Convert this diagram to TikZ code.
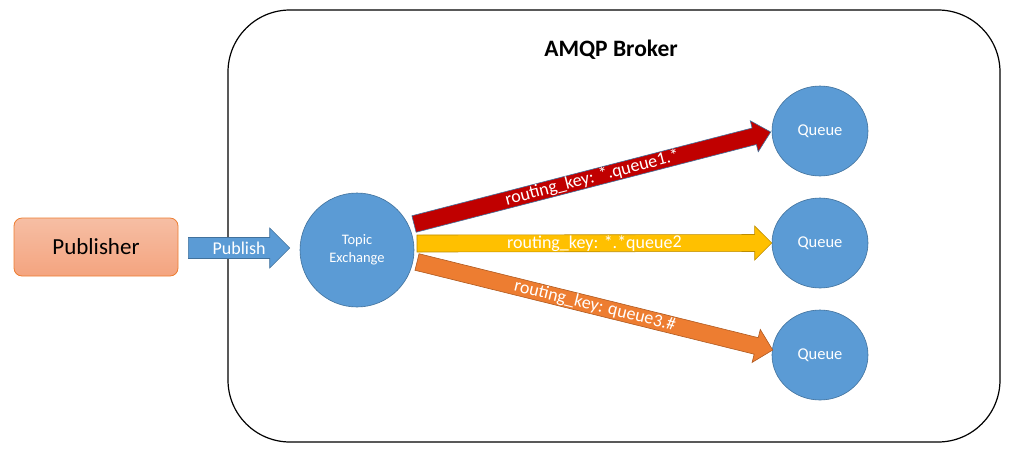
\documentclass[tikz,border=0pt]{standalone}
\usepackage{fontspec}
\setmainfont{Carlito}
\usetikzlibrary{calc,shapes.geometric}
\definecolor{qblue}{HTML}{5B9BD5}
\definecolor{qbluedark}{HTML}{41719C}
\definecolor{kred}{HTML}{C00000}
\definecolor{kyellow}{HTML}{FFC000}
\definecolor{kyellowdark}{HTML}{BC8C00}
\definecolor{korange}{HTML}{ED7D31}
\definecolor{korangedark}{HTML}{AE5A21}
\definecolor{pubtop}{HTML}{F6BEA4}
\definecolor{pubbot}{HTML}{F4A47F}
\newcommand{\blockarrow}[7]{%
  \coordinate (bah) at ($(#3)!#6!(#2)$);
  \draw[#1] ($(#2)!#4!90:(#3)$) -- ($(bah)!#4!90:(#3)$) -- ($(bah)!#5!90:(#3)$) -- (#3)
    -- ($(bah)!#5!-90:(#3)$) -- ($(bah)!#4!-90:(#3)$) -- ($(#2)!#4!-90:(#3)$) -- cycle;
  \path (#2) -- (#3) node[midway, sloped, arrowtext] {#7};
}
\tikzset{
  broker/.style={draw=black, line width=1.2pt, rounded corners=62pt},
  pubbox/.style={draw=korange, line width=0.8pt, rounded corners=8pt, top color=pubtop, bottom color=pubbot,
    minimum width=164pt, minimum height=58pt, font=\fontsize{23}{26}\selectfont, text=black},
  exnode/.style={circle, fill=qblue, draw=qbluedark, line width=0.6pt, minimum size=114pt, inner sep=0pt,
    text=white, align=center, font=\fontsize{14.5}{18}\selectfont},
  qnode/.style={ellipse, fill=qblue, draw=qbluedark, line width=0.6pt, minimum width=96pt, minimum height=90pt,
    inner sep=0pt, text=white, font=\fontsize{16.5}{18}\selectfont},
  arrowtext/.style={text=white, font=\fontsize{18}{20}\selectfont, inner sep=0pt},
  redarrow/.style={fill=kred, draw=qbluedark, line width=0.6pt},
  yellowarrow/.style={fill=kyellow, draw=kyellowdark, line width=0.6pt},
  orangearrow/.style={fill=korange, draw=korangedark, line width=0.6pt},
  bluearrow/.style={fill=qblue, draw=qbluedark, line width=0.6pt},
}
\begin{document}
\begin{tikzpicture}[x=1pt,y=-1pt]
\useasboundingbox (0,0) rectangle (1012,451);
\draw[broker] (228,10) rectangle (1000,442);
\node[font=\bfseries\fontsize{23.5}{26}\selectfont] (title) at (611,50) {AMQP Broker};
\node[pubbox] (pub) at (96,247) {Publisher};
\node[exnode] (ex) at (357,250) {Topic\\Exchange};
\node[qnode] (q1) at (820,131) {Queue};
\node[qnode] (q2) at (820,243) {Queue};
\node[qnode] (q3) at (820,355) {Queue};
\coordinate (pt) at ($(pub.east)+(10,1)$);
\coordinate (ph) at ($(ex.west)+(-10,-2)$);
\blockarrow{bluearrow}{pt}{ph}{10.5pt}{20pt}{20pt}{\fontsize{18}{20}\selectfont Publish}
\coordinate (rt) at (414,224);
\coordinate (rh) at ($(q1.west)+(-1,1)$);
\blockarrow{redarrow}{rt}{rh}{8.5pt}{16pt}{17pt}{routing\_key: *.queue1.*}
\coordinate (yt) at (417,243.5);
\coordinate (yh) at (q2.west);
\blockarrow{yellowarrow}{yt}{yh}{8.5pt}{17pt}{17pt}{routing\_key: *.*queue2}
\coordinate (ot) at (417,262);
\coordinate (oh) at ($(q3.west)+(1,-5)$);
\blockarrow{orangearrow}{ot}{oh}{8.5pt}{17pt}{17pt}{routing\_key: queue3.\#}
\end{tikzpicture}
\end{document}
